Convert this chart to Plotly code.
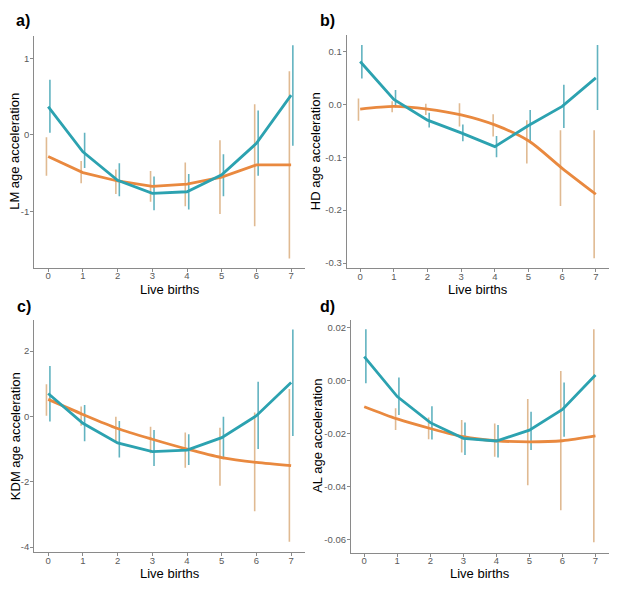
import plotly.graph_objects as go

births = [0, 1, 2, 3, 4, 5, 6, 7]
tick_vals = [0, 1, 2, 3, 4, 5, 6, 7]

# Panel a) LM
lm_teal = [0.37, -0.22, -0.59, -0.76, -0.74, -0.52, -0.11, 0.52]
lm_teal_lo = [0.03, -0.43, -0.80, -0.98, -0.97, -0.80, -0.53, -0.14]
lm_teal_hi = [0.72, 0.03, -0.37, -0.54, -0.51, -0.25, 0.32, 1.17]
lm_orange = [-0.28, -0.49, -0.60, -0.67, -0.64, -0.55, -0.39, -0.39]
lm_orange_lo = [-0.53, -0.63, -0.77, -0.87, -0.93, -1.03, -1.19, -1.61]
lm_orange_hi = [-0.03, -0.34, -0.45, -0.47, -0.36, -0.07, 0.40, 0.83]

# Panel b) HD
hd_teal = [0.081, 0.009, -0.030, -0.054, -0.080, -0.040, -0.004, 0.050]
hd_teal_lo = [0.049, -0.006, -0.044, -0.070, -0.100, -0.071, -0.045, -0.011]
hd_teal_hi = [0.112, 0.027, -0.016, -0.038, -0.060, -0.011, 0.037, 0.112]
hd_orange = [-0.009, -0.004, -0.009, -0.020, -0.039, -0.069, -0.121, -0.170]
hd_orange_lo = [-0.031, -0.015, -0.020, -0.042, -0.061, -0.112, -0.192, -0.291]
hd_orange_hi = [0.011, 0.006, 0.001, 0.002, -0.019, -0.030, -0.049, -0.049]

# Panel c) KDM
kdm_teal = [0.70, -0.21, -0.81, -1.08, -1.03, -0.65, 0.02, 1.04]
kdm_teal_lo = [-0.16, -0.76, -1.26, -1.52, -1.49, -1.31, -1.00, -0.60]
kdm_teal_hi = [1.54, 0.35, -0.14, -0.42, -0.55, -0.01, 1.06, 2.66]
kdm_orange = [0.52, 0.06, -0.37, -0.70, -1.00, -1.26, -1.41, -1.51]
kdm_orange_lo = [0.02, -0.29, -0.76, -1.13, -1.57, -2.12, -2.90, -3.84]
kdm_orange_hi = [0.98, 0.30, -0.01, -0.32, -0.49, -0.35, 0.12, 0.84]

# Panel d) AL
al_teal = [0.0089, -0.0061, -0.0159, -0.0218, -0.0228, -0.0187, -0.0109, 0.0020]
al_teal_lo = [-0.0011, -0.0130, -0.0222, -0.0281, -0.0290, -0.0262, -0.0212, None]
al_teal_hi = [0.0192, 0.0011, -0.0097, -0.0158, -0.0168, -0.0118, -0.0008, None]
al_orange = [-0.0099, -0.0145, -0.0181, -0.0212, -0.0227, -0.0231, -0.0227, -0.0209]
al_orange_lo = [None, -0.0187, -0.0221, -0.0271, -0.0287, -0.0394, -0.0488, -0.0609]
al_orange_hi = [None, -0.0105, -0.0140, -0.0149, -0.0162, -0.0070, 0.0035, 0.0192]

panel_labels = ["a)", "b)", "c)", "d)"]
y_titles = ["LM age acceleration", "HD age acceleration", "KDM age acceleration", "AL age acceleration"]
x_title = "Live births"
y_ticks = [[-1, 0, 1], [-0.3, -0.2, -0.1, 0.0, 0.1], [-4, -2, 0, 2], [-0.06, -0.04, -0.02, 0.00, 0.02]]
y_ticktext = [["-1", "0", "1"], ["-0.3", "-0.2", "-0.1", "0.0", "0.1"], ["-4", "-2", "0", "2"],
              ["-0.06", "-0.04", "-0.02", "0.00", "0.02"]]

panels = [
    (lm_teal, lm_teal_lo, lm_teal_hi, lm_orange, lm_orange_lo, lm_orange_hi),
    (hd_teal, hd_teal_lo, hd_teal_hi, hd_orange, hd_orange_lo, hd_orange_hi),
    (kdm_teal, kdm_teal_lo, kdm_teal_hi, kdm_orange, kdm_orange_lo, kdm_orange_hi),
    (al_teal, al_teal_lo, al_teal_hi, al_orange, al_orange_lo, al_orange_hi),
]

TEAL = "#2ca2b0"
TEAL_ERR = "#62b3c0"
ORANGE = "#e9893f"
ORANGE_ERR = "#e0ba92"
FONT = "Liberation Sans, Arial, sans-serif"

# page body has an 8px default margin: figure is placed at (8, 8)
OFF = 8
W, H = 640 - OFF, 591 - OFF
# pixel boxes in window coords (left, right, top, bottom)
boxes = [(34.3, 305.0, 36.0, 267.7), (346.7, 609.3, 35.0, 268.3),
         (34.3, 305.0, 320.0, 552.3), (351.0, 608.7, 320.0, 552.7)]
y_ranges = [[-1.73, 1.29], [-0.310, 0.131], [-4.16, 2.95], [-0.0648, 0.0227]]
orange_shape = ["linear", "spline", "spline", "spline"]
label_pos = [(14, 20), (318, 20), (15, 307), (318, 307)]
ytitle_x = [15, 315.5, 15, 317.5]
xtitle_y = [289.5, 289.5, 573.5, 573.5]

fig = go.Figure()
dodge = 0.05

for i, (t, tlo, thi, o, olo, ohi) in enumerate(panels):
    xa = "x" if i == 0 else f"x{i+1}"
    ya = "y" if i == 0 else f"y{i+1}"
    for vals, lo, hi, col, off in [(o, olo, ohi, ORANGE_ERR, -dodge), (t, tlo, thi, TEAL_ERR, dodge)]:
        xs = [b + off for b, l in zip(births, lo) if l is not None]
        ys = [(l + h) / 2 for l, h in zip(lo, hi) if l is not None]
        half = [(h - l) / 2 for l, h in zip(lo, hi) if l is not None]
        fig.add_trace(go.Scatter(
            x=xs, y=ys, mode="markers", marker=dict(size=0.1, opacity=0, color=col),
            error_y=dict(type="data", array=half, symmetric=True, color=col, thickness=1.6, width=0),
            xaxis=xa, yaxis=ya, showlegend=False, hoverinfo="skip"))
    fig.add_trace(go.Scatter(x=births, y=o, mode="lines",
                             line=dict(color=ORANGE, width=2.8, shape=orange_shape[i], smoothing=0.8),
                             xaxis=xa, yaxis=ya, showlegend=False))
    fig.add_trace(go.Scatter(x=births, y=t, mode="lines",
                             line=dict(color=TEAL, width=2.8),
                             xaxis=xa, yaxis=ya, showlegend=False))

layout = dict(width=W, height=H, margin=dict(l=0, r=0, t=0, b=0, autoexpand=False),
              paper_bgcolor="white", plot_bgcolor="white",
              font=dict(family=FONT, color="black"))

for i in range(4):
    l, r, tp, bt = [v - OFF for v in boxes[i]]
    xk = "xaxis" if i == 0 else f"xaxis{i+1}"
    yk = "yaxis" if i == 0 else f"yaxis{i+1}"
    xa = "x" if i == 0 else f"x{i+1}"
    ya = "y" if i == 0 else f"y{i+1}"
    layout[xk] = dict(domain=[l / W, r / W], anchor=ya, range=[-0.4, 7.4], automargin=False,
                      tickvals=tick_vals, showgrid=False, zeroline=False,
                      showline=True, linecolor="#8a8a8a", linewidth=1.2,
                      ticks="outside", ticklen=3, tickcolor="#8a8a8a", ticklabelstandoff=-4,
                      tickfont=dict(size=9.5, color="#5a5a5a", family=FONT))
    layout[yk] = dict(domain=[1 - bt / H, 1 - tp / H], anchor=xa, range=y_ranges[i], automargin=False,
                      tickvals=y_ticks[i], ticktext=y_ticktext[i], showgrid=False, zeroline=False,
                      showline=True, linecolor="#8a8a8a", linewidth=1.2,
                      ticks="outside", ticklen=3, tickcolor="#8a8a8a", ticklabelstandoff=-1,
                      tickfont=dict(size=9.5, color="#5a5a5a", family=FONT))

fig.update_layout(**layout)

for i in range(4):
    l, r, tp, bt = boxes[i]
    fig.add_annotation(x=((l + r) / 2 - OFF) / W, y=1 - (xtitle_y[i] - OFF) / H,
                       xref="paper", yref="paper", text=x_title, showarrow=False,
                       xanchor="center", yanchor="middle",
                       font=dict(size=13, color="black", family=FONT))
    fig.add_annotation(x=(ytitle_x[i] - OFF) / W, y=1 - ((tp + bt) / 2 - OFF) / H,
                       xref="paper", yref="paper", text=y_titles[i], showarrow=False,
                       textangle=-90, xanchor="center", yanchor="middle",
                       font=dict(size=13, color="black", family=FONT))
    px, py = label_pos[i]
    fig.add_annotation(x=(px - OFF) / W, y=1 - (py - OFF) / H, xref="paper", yref="paper",
                       text=f"<b>{panel_labels[i]}</b>", showarrow=False,
                       xanchor="left", yanchor="middle",
                       font=dict(size=16, color="black", family=FONT))

fig.write_html("out.html")
